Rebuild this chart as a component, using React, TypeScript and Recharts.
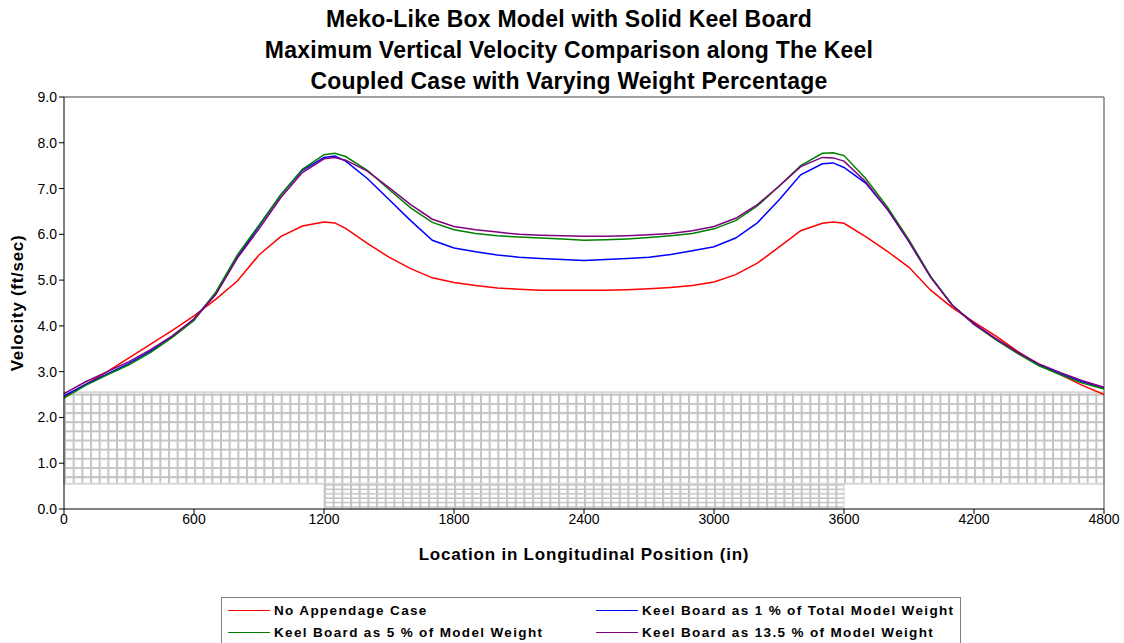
import React from 'react';
import { LineChart, Line, XAxis, YAxis, ReferenceArea, ReferenceLine } from 'recharts';

const positions = [0, 100, 200, 300, 400, 500, 600, 700, 800, 900, 1000, 1100, 1200, 1250, 1300, 1400, 1500, 1600, 1700, 1800, 1900, 2000, 2100, 2200, 2300, 2400, 2500, 2600, 2700, 2800, 2900, 3000, 3100, 3200, 3300, 3400, 3500, 3550, 3600, 3700, 3800, 3900, 4000, 4100, 4200, 4300, 4400, 4500, 4600, 4700, 4800];

const noAppendage = [2.45, 2.72, 3.0, 3.3, 3.6, 3.9, 4.22, 4.58, 4.98, 5.55, 5.95, 6.18, 6.27, 6.25, 6.13, 5.8, 5.5, 5.25, 5.05, 4.95, 4.88, 4.83, 4.8, 4.78, 4.78, 4.78, 4.78, 4.79, 4.81, 4.84, 4.88, 4.96, 5.12, 5.37, 5.72, 6.08, 6.24, 6.27, 6.24, 5.95, 5.63, 5.28, 4.78, 4.4, 4.08, 3.78, 3.45, 3.15, 2.93, 2.7, 2.5];

const keel1 = [2.47, 2.72, 2.95, 3.18, 3.45, 3.77, 4.15, 4.72, 5.5, 6.18, 6.86, 7.4, 7.68, 7.71, 7.6, 7.22, 6.76, 6.3, 5.87, 5.7, 5.62, 5.55, 5.5, 5.47, 5.45, 5.43, 5.45, 5.47, 5.5, 5.56, 5.64, 5.73, 5.92, 6.25, 6.75, 7.3, 7.54, 7.56, 7.46, 7.12, 6.55, 5.84, 5.07, 4.45, 4.05, 3.72, 3.42, 3.15, 2.95, 2.78, 2.64];

const keel5 = [2.42, 2.7, 2.93, 3.15, 3.42, 3.75, 4.12, 4.73, 5.55, 6.2, 6.86, 7.42, 7.74, 7.77, 7.7, 7.4, 6.98, 6.58, 6.26, 6.1, 6.02, 5.97, 5.94, 5.92, 5.9, 5.87, 5.88, 5.9, 5.93, 5.97, 6.02, 6.12, 6.3, 6.62, 7.05, 7.5, 7.77, 7.78, 7.72, 7.22, 6.6, 5.88, 5.08, 4.45, 4.03, 3.7, 3.4, 3.13, 2.93, 2.75, 2.62];

const keel135 = [2.52, 2.78, 3.0, 3.22, 3.48, 3.78, 4.15, 4.68, 5.48, 6.12, 6.8, 7.35, 7.65, 7.68, 7.62, 7.38, 7.02, 6.65, 6.33, 6.17, 6.1, 6.05, 6.0, 5.98, 5.97, 5.96, 5.96, 5.97, 5.99, 6.02, 6.08, 6.17, 6.35, 6.65, 7.05, 7.48, 7.68, 7.67, 7.6, 7.15, 6.55, 5.84, 5.06, 4.45, 4.04, 3.72, 3.43, 3.17, 2.98, 2.8, 2.66];

const xTicks = [0, 600, 1200, 1800, 2400, 3000, 3600, 4200, 4800];
const yTicks = [0, 1, 2, 3, 4, 5, 6, 7, 8, 9];

const titleLines = [
  'Meko-Like Box Model with Solid Keel Board',
  'Maximum Vertical Velocity Comparison along The Keel',
  'Coupled Case with Varying Weight Percentage',
];

const series = [
  { key: 'noAppendage', name: 'No Appendage Case', color: '#ff0000', values: noAppendage },
  { key: 'keel1', name: 'Keel Board as 1 % of Total Model Weight', color: '#0000ff', values: keel1 },
  { key: 'keel5', name: 'Keel Board as 5 % of Model Weight', color: '#008000', values: keel5 },
  { key: 'keel135', name: 'Keel Board as 13.5 % of Model Weight', color: '#800080', values: keel135 },
];

const data = positions.map((x, i) => {
  const row: Record<string, number> = { x };
  series.forEach((s) => { row[s.key] = s.values[i]; });
  return row;
});

const FONT = '"Liberation Sans", Arial, sans-serif';

export default function App() {
  return (
    <div style={{ position: 'absolute', left: 0, top: 0, width: 1124, height: 643, background: '#fff', fontFamily: FONT, overflow: 'hidden' }}>
      {titleLines.map((t, i) => (
        <div key={i} style={{ position: 'absolute', left: 0, width: 1138, top: 4 + i * 31, textAlign: 'center', fontSize: 23, fontWeight: 'bold', letterSpacing: 0.2, color: '#000', lineHeight: '30px' }}>{t}</div>
      ))}
      <LineChart width={1124} height={643} data={data} margin={{ top: 97, right: 20, bottom: 104, left: 0 }} style={{ position: 'absolute', left: 0, top: 0 }}>
        <defs>
          <pattern id="hatchBig" x="64" y="0" width="8.667" height="9.156" patternUnits="userSpaceOnUse">
            <rect width="8.667" height="9.156" fill="#ffffff" />
            <line x1="1" y1="0" x2="1" y2="9.156" stroke="#c4c4c4" strokeWidth="2" />
            <line x1="0" y1="1" x2="8.667" y2="1" stroke="#c4c4c4" strokeWidth="2" />
          </pattern>
          <pattern id="hatchSmall" x="64" y="0" width="8.667" height="4.4" patternUnits="userSpaceOnUse">
            <rect width="8.667" height="4.4" fill="#ffffff" />
            <line x1="1" y1="0" x2="1" y2="4.4" stroke="#c4c4c4" strokeWidth="2" />
            <line x1="0" y1="1" x2="8.667" y2="1" stroke="#c4c4c4" strokeWidth="1.5" />
          </pattern>
        </defs>
        <XAxis dataKey="x" type="number" domain={[0, 4800]} ticks={xTicks} interval={0} height={30}
          axisLine={{ stroke: '#000' }} tickLine={{ stroke: '#000' }} tickSize={5}
          tick={{ fill: '#000', fontSize: 14, fontFamily: FONT, dy: -2 }} />
        <YAxis type="number" domain={[0, 9]} ticks={yTicks} interval={0} width={64}
          tickFormatter={(v: number) => v.toFixed(1)}
          axisLine={{ stroke: '#000' }} tickLine={{ stroke: '#000' }} tickSize={5}
          tick={{ fill: '#000', fontSize: 14, fontFamily: FONT }} />
        <ReferenceArea x1={0} x2={4800} y1={0.55} y2={2.55} fill="url(#hatchBig)" fillOpacity={1} stroke="#d8d8d8" strokeWidth={2} />
        <ReferenceArea x1={1200} x2={3600} y1={0} y2={0.55} fill="url(#hatchSmall)" fillOpacity={1} stroke="#d0d0d0" strokeWidth={1} />
        <ReferenceLine y={9} stroke="#808080" strokeWidth={1.5} />
        <ReferenceLine x={4800} stroke="#808080" strokeWidth={1.5} />
        {series.map((s) => (
          <Line key={s.key} dataKey={s.key} name={s.name} stroke={s.color} strokeWidth={1.5} dot={false} type="linear" isAnimationActive={false} />
        ))}
      </LineChart>
      <div style={{ position: 'absolute', left: 0, top: 303, width: 0, height: 0 }}>
        <div style={{ position: 'absolute', left: 18, top: 0, transform: 'translate(-50%, -50%) rotate(-90deg)', whiteSpace: 'nowrap', fontSize: 17, fontWeight: 'bold', letterSpacing: 0.7 }}>Velocity (ft/sec)</div>
      </div>
      <div style={{ position: 'absolute', left: 64, width: 1040, top: 545, textAlign: 'center', fontSize: 17, fontWeight: 'bold', letterSpacing: 0.8 }}>Location in Longitudinal Position (in)</div>
      <div style={{ position: 'absolute', left: 221, top: 597, width: 738, height: 60, border: '1px solid #808080', background: '#fff' }}>
        {series.map((s, i) => (
          <div key={s.key} style={{ position: 'absolute', left: (i % 2) * 368 + 6, top: 3 + Math.floor(i / 2) * 22, display: 'flex', alignItems: 'center', height: 18 }}>
            <div style={{ width: 42, height: 0, borderTop: `1.5px solid ${s.color}`, marginRight: 4 }} />
            <span style={{ fontSize: 13.5, fontWeight: 'bold', letterSpacing: 1.35, whiteSpace: 'nowrap' }}>{s.name}</span>
          </div>
        ))}
      </div>
    </div>
  );
}
